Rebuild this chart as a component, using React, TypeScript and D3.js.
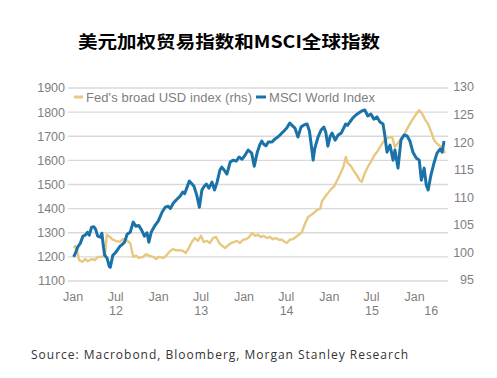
import React from "react";
import * as d3 from "d3";

const titleText = "美元加权贸易指数和MSCI全球指数";
const sourceText = "Source: Macrobond, Bloomberg, Morgan Stanley Research";
const legendLabels = ["Fed's broad USD index (rhs)", "MSCI World Index"];

const leftTicks = [1100, 1200, 1300, 1400, 1500, 1600, 1700, 1800, 1900];
const rightTicks = [95, 100, 105, 110, 115, 120, 125, 130];
const monthTicks = ["2012-01-01", "2012-07-01", "2013-01-01", "2013-07-01", "2014-01-01", "2014-07-01", "2015-01-01", "2015-07-01", "2016-01-01"];
const monthLabels = ["Jan", "Jul", "Jan", "Jul", "Jan", "Jul", "Jan", "Jul", "Jan"];
const yearLabels = ["12", "13", "14", "15", "16"];

const msciDates = [
  "2012-01-03","2012-01-09","2012-01-20","2012-02-01","2012-02-12","2012-02-22","2012-03-02","2012-03-10","2012-03-20","2012-03-30","2012-04-06","2012-04-15","2012-04-26","2012-05-03","2012-05-10","2012-05-15","2012-05-25","2012-06-04","2012-06-08","2012-06-19","2012-06-28","2012-07-08","2012-07-20","2012-07-28","2012-08-08","2012-08-19","2012-09-01","2012-09-14","2012-09-25","2012-10-08","2012-10-20","2012-11-01","2012-11-12","2012-11-20","2012-11-30","2012-12-14","2012-12-30",
  "2013-01-16","2013-01-29","2013-02-11","2013-02-20","2013-03-05","2013-03-20","2013-04-03","2013-04-14","2013-04-22","2013-05-01","2013-05-12","2013-05-21","2013-06-01","2013-06-14","2013-06-24","2013-07-05","2013-07-15","2013-07-24","2013-08-04","2013-08-17","2013-08-28","2013-09-08","2013-09-20","2013-09-28","2013-10-08","2013-10-20","2013-11-03","2013-11-16","2013-11-29","2013-12-11","2013-12-24",
  "2014-01-06","2014-01-19","2014-02-03","2014-02-14","2014-02-27","2014-03-09","2014-03-18","2014-03-26","2014-04-05","2014-04-15","2014-05-01","2014-05-13","2014-05-26","2014-06-08","2014-06-21","2014-07-03","2014-07-16","2014-07-29","2014-08-07","2014-08-20","2014-09-02","2014-09-15","2014-09-28","2014-10-08","2014-10-16","2014-10-24","2014-10-31","2014-11-14","2014-11-27","2014-12-09","2014-12-17","2014-12-26",
  "2015-01-05","2015-01-13","2015-01-26","2015-02-08","2015-02-21","2015-03-04","2015-03-12","2015-03-20","2015-03-30","2015-04-12","2015-04-25","2015-05-07","2015-05-20","2015-06-02","2015-06-15","2015-06-28","2015-07-11","2015-07-24","2015-08-06","2015-08-19","2015-08-27","2015-09-05","2015-09-18","2015-10-01","2015-10-09","2015-10-22","2015-11-04","2015-11-17","2015-11-30","2015-12-12","2015-12-25",
  "2016-01-08","2016-01-21","2016-01-30","2016-02-11","2016-02-20","2016-02-28","2016-03-11","2016-03-24","2016-04-06","2016-04-19","2016-04-28","2016-05-06"
];
const msciValues = [
  1200,1211,1240,1257,1286,1290,1302,1290,1323,1325,1315,1286,1282,1298,1240,1207,1195,1160,1157,1207,1215,1228,1245,1250,1261,1294,1302,1344,1327,1330,1311,1286,1300,1261,1302,1327,1348,
  1386,1406,1410,1400,1423,1439,1452,1469,1462,1485,1514,1505,1493,1452,1406,1477,1493,1502,1485,1510,1477,1510,1560,1572,1560,1543,1593,1601,1597,1614,1605,1622,
  1643,1630,1576,1634,1663,1680,1668,1660,1676,1676,1688,1697,1709,1722,1734,1755,1742,1734,1697,1738,1747,1751,1722,1663,1601,1650,1697,1726,1738,1717,1659,1700,
  1713,1684,1705,1713,1734,1751,1745,1759,1776,1788,1796,1805,1809,1784,1792,1771,1780,1759,1751,1701,1634,1663,1601,1643,1568,1685,1705,1701,1680,1634,1610,
  1601,1518,1568,1498,1477,1539,1589,1630,1647,1634,1680,1663
];

const fedDates = [
  "2012-01-03","2012-01-11","2012-01-18","2012-01-27","2012-02-09","2012-02-22","2012-03-04","2012-03-21","2012-04-03","2012-04-16","2012-05-03","2012-05-16","2012-05-24","2012-06-06","2012-06-19","2012-07-02","2012-07-19","2012-08-01","2012-08-14","2012-09-01","2012-09-14","2012-09-27","2012-10-09","2012-10-26","2012-11-08","2012-11-21","2012-12-08","2012-12-21",
  "2013-01-03","2013-01-20","2013-02-02","2013-02-15","2013-03-02","2013-03-15","2013-03-28","2013-04-14","2013-04-27","2013-05-10","2013-05-23","2013-06-05","2013-06-18","2013-07-01","2013-07-13","2013-07-26","2013-08-08","2013-08-21","2013-09-04","2013-09-17","2013-09-30","2013-10-12","2013-10-25","2013-11-07","2013-11-20","2013-12-02","2013-12-15","2013-12-28",
  "2014-01-10","2014-01-23","2014-02-05","2014-02-18","2014-03-01","2014-03-14","2014-03-27","2014-04-09","2014-04-22","2014-05-04","2014-05-17","2014-05-30","2014-06-12","2014-06-25","2014-07-03","2014-07-16","2014-07-29","2014-08-11","2014-08-24","2014-09-06","2014-09-19","2014-10-02","2014-10-15","2014-10-28","2014-11-10","2014-11-23","2014-12-01","2014-12-14","2014-12-27",
  "2015-01-09","2015-01-22","2015-02-04","2015-02-17","2015-03-02","2015-03-13","2015-03-21","2015-04-03","2015-04-16","2015-04-29","2015-05-11","2015-05-20","2015-06-02","2015-06-15","2015-06-28","2015-07-11","2015-07-24","2015-08-06","2015-08-19","2015-09-01","2015-09-14","2015-09-27","2015-10-09","2015-10-22","2015-11-04","2015-11-17","2015-11-30","2015-12-12","2015-12-25",
  "2016-01-08","2016-01-21","2016-02-03","2016-02-16","2016-02-28","2016-03-11","2016-03-24","2016-04-06","2016-04-19","2016-05-02","2016-05-10"
];
const fedValues = [
  100.8,101.2,100.4,98.6,98.3,98.8,98.4,98.8,98.6,99.2,99.2,99.4,103.2,102.8,102.3,102.1,101.9,102.4,102.3,101.7,99.2,99.4,99.0,99.2,99.7,99.4,99.2,98.8,
  99.2,99.0,99.4,100.1,100.6,100.4,100.4,100.3,99.9,100.8,101.9,102.6,102.1,103.0,101.9,102.1,101.7,102.6,102.8,101.7,101.2,100.8,101.3,101.7,101.9,102.1,101.7,102.3,
  102.4,102.8,103.5,103.0,103.2,102.8,103.0,102.6,102.8,102.4,102.6,102.3,102.3,101.9,101.7,102.3,102.4,102.8,103.2,103.7,105.2,106.4,106.8,107.2,107.7,107.9,109.3,110.1,110.8,
  111.5,112.0,113.1,114.2,115.5,117.3,116.2,115.7,114.8,114.0,113.1,112.8,114.4,115.5,116.4,117.5,118.2,119.1,120.0,120.6,120.9,120.9,119.1,119.8,120.6,121.3,122.4,123.3,124.2,
  125.1,125.8,125.1,124.0,123.3,122.0,120.4,119.7,119.3,118.8,118.0
];

const BLUE = "#1B72A8";
const GOLD = "#E8C880";
const GRID = "#D9D9D9";
const AXIS_TEXT = "#7F7F7F";
const FONT = "Liberation Sans, Arial, sans-serif";

export default function App() {
  const parse = d3.timeParse("%Y-%m-%d");
  const x = d3.scaleTime().domain([new Date(2011, 11, 10), new Date(2016, 4, 23)]).range([68, 448]);
  const yL = d3.scaleLinear().domain([1100, 1900]).range([281, 88]);
  const yR = d3.scaleLinear().domain([95, 130]).range([280, 87]);

  const msci = msciDates.map((d, i) => ({ d: parse(d) as Date, v: msciValues[i] }));
  const fed = fedDates.map((d, i) => ({ d: parse(d) as Date, v: fedValues[i] }));

  const msciLine = d3.line<{ d: Date; v: number }>().x((p) => x(p.d)).y((p) => yL(p.v));
  const fedLine = d3.line<{ d: Date; v: number }>().x((p) => x(p.d)).y((p) => yR(p.v));

  const [x0, x1] = x.range();

  const yearPos = yearLabels.map((yl) => {
    const yr = 2000 + Number(yl);
    const start = Math.max(x(new Date(yr, 0, 1)), x0);
    const end = Math.min(x(new Date(yr + 1, 0, 1)), x1);
    return (start + end) / 2;
  });

  return (
    <div style={{ position: "absolute", left: 0, top: 0 }}>
      <svg width={497} height={378} style={{ display: "block", background: "#fff" }}>
        <rect x={0} y={0} width={497} height={378} fill="#fff" />
        <text x={78} y={48} fontFamily="'Noto Sans CJK SC', sans-serif" fontWeight={700} fontSize={17.5} fill="#000" textLength={302} lengthAdjust="spacingAndGlyphs">
          {titleText}
        </text>

        {leftTicks.map((t) => (
          <line key={"g" + t} x1={x0} x2={x1} y1={yL(t)} y2={yL(t)} stroke={GRID} strokeWidth={1.3} />
        ))}
        {leftTicks.map((t) => (
          <text key={"l" + t} x={65} y={yL(t)} dy="0.35em" textAnchor="end" fontFamily={FONT} fontSize={12.5} fill={AXIS_TEXT}>
            {t}
          </text>
        ))}
        {rightTicks.map((t) => (
          <text key={"r" + t} x={474} y={yR(t)} dy="0.35em" textAnchor="end" fontFamily={FONT} fontSize={12.5} fill={AXIS_TEXT}>
            {t}
          </text>
        ))}
        {monthTicks.map((m, i) => (
          <text key={"m" + m} x={x(parse(m) as Date)} y={301} textAnchor="middle" fontFamily={FONT} fontSize={12.5} fill={AXIS_TEXT}>
            {monthLabels[i]}
          </text>
        ))}
        {yearLabels.map((yl, i) => (
          <text key={"y" + yl} x={yearPos[i]} y={315} textAnchor="middle" fontFamily={FONT} fontSize={12.5} fill={AXIS_TEXT}>
            {yl}
          </text>
        ))}

        <path d={fedLine(fed) || ""} fill="none" stroke={GOLD} strokeWidth={2.4} strokeLinejoin="round" />
        <path d={msciLine(msci) || ""} fill="none" stroke={BLUE} strokeWidth={3} strokeLinejoin="round" />

        <line x1={74} x2={83} y1={97} y2={97} stroke={GOLD} strokeWidth={3} />
        <text x={86} y={97} dy="0.35em" fontFamily={FONT} fontSize={13} fill={AXIS_TEXT} textLength={166} lengthAdjust="spacing">
          {legendLabels[0]}
        </text>
        <line x1={256} x2={266} y1={97} y2={97} stroke={BLUE} strokeWidth={3} />
        <text x={269} y={97} dy="0.35em" fontFamily={FONT} fontSize={13} fill={AXIS_TEXT} textLength={106} lengthAdjust="spacing">
          {legendLabels[1]}
        </text>

        <text x={31} y={359} fontFamily="'Open Sans', 'Noto Sans', sans-serif" fontSize={12} fill="#333" textLength={377} lengthAdjust="spacing">
          {sourceText}
        </text>
      </svg>
    </div>
  );
}
